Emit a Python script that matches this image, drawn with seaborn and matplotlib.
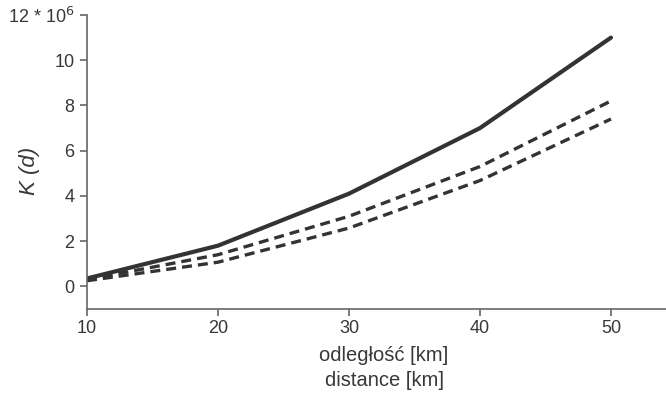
import matplotlib
matplotlib.use('Agg')
import matplotlib.pyplot as plt
import pandas as pd
import seaborn as sns

# distance classes [km] and K(d) values (* 10^6)
distance = [10, 20, 30, 40, 50]
k_observed = [0.35, 1.8, 4.1, 7.0, 11.0]
k_upper = [0.3, 1.4, 3.1, 5.3, 8.2]
k_lower = [0.25, 1.07, 2.58, 4.68, 7.4]

df = pd.DataFrame({'d': distance, 'obs': k_observed, 'up': k_upper, 'low': k_lower})

sns.set_style('white')
plt.rcParams['font.family'] = ['Liberation Sans', 'DejaVu Sans']

fig = plt.figure(figsize=(6.66, 4.0), dpi=100)
ax = fig.add_axes([0.1306, 0.2275, 0.8694, 0.735])

line_col = '#333333'
dash = (0, (3.0, 1.8))
sns.lineplot(data=df, x='d', y='obs', ax=ax, color=line_col, linewidth=3.0)
sns.lineplot(data=df, x='d', y='up', ax=ax, color=line_col, linewidth=2.4, linestyle=dash)
sns.lineplot(data=df, x='d', y='low', ax=ax, color=line_col, linewidth=2.4, linestyle=dash)

ax.set_xlim(10, 54.2)
ax.set_ylim(-1, 12)
ax.set_xticks([10, 20, 30, 40, 50])
ax.set_yticks([0, 2, 4, 6, 8, 10, 12])
ax.set_yticklabels(['0', '2', '4', '6', '8', '10', r'12 * 10$^{6}$'])

axis_col = '#666666'
text_col = '#383838'
for side in ['top', 'right']:
    ax.spines[side].set_visible(False)
for side in ['left', 'bottom']:
    ax.spines[side].set_color(axis_col)
    ax.spines[side].set_linewidth(1.2)
ax.tick_params(axis='both', which='major', direction='out', length=5, width=1.2,
               color=axis_col, labelcolor=text_col, labelsize=13, left=True, bottom=True, pad=4)
ax.tick_params(axis='x', pad=3)

ax.set_xlabel('odległość [km]\ndistance [km]', fontsize=14.5, color=text_col, linespacing=1.4)
ax.xaxis.set_label_coords(0.513, -0.125, transform=ax.transAxes)
ax.xaxis.label.set_va('top')
ax.set_ylabel('K (d)', fontsize=16, color=text_col, style='italic')
ax.yaxis.set_label_coords(-0.081, 0.47)
ax.grid(False)

fig.savefig('out.png', dpi=100)
